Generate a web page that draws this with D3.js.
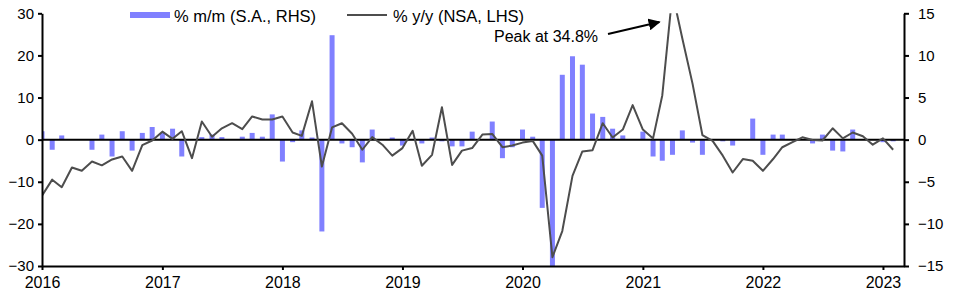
<!DOCTYPE html>
<html>
<head>
<meta charset="utf-8">
<script src="https://cdn.jsdelivr.net/npm/d3@7"></script>
<style>
  body { margin: 0; background: #fff; }
  text { font-family: "Liberation Sans", Arial, sans-serif; fill: #000; }
</style>
</head>
<body>
<svg id="chart" width="969" height="296"></svg>
<script>
// monthly data, Jan 2016 .. Feb 2023
const startMonth = "2016-01";
const yoy = [
  -13.3, -9.5, -11.3, -6.6, -7.4, -5.2, -6.1, -4.7, -4.0, -7.4, -1.3, -0.2,
  1.9, 0.2, 2.0, -4.4, 4.3, 0.7, 2.7, 3.9, 2.5, 5.5, 4.8, 4.8,
  5.5, 1.7, 0.9, 9.1, -6.4, 2.9, 3.9, 1.4, -2.4, 0.6, -1.2, -3.8,
  -2.0, 2.1, -6.2, -3.6, 7.7, -6.0, -2.6, -2.0, 1.2, 1.35, -1.8, -1.4,
  -0.7, -0.3, -3.8, -27.9, -21.7, -8.6, -2.8, -2.5, 3.9, 0.5, 2.4, 8.2,
  2.4, 0.3, 10.5, 34.8, 24.0, 13.3, 1.1, -0.3, -3.8, -7.8, -4.6, -5.0,
  -7.4, -4.6, -1.8, -0.6, 0.55, -0.1, -0.2, 2.7, 0.3, 1.7, 0.8, -1.2,
  0.3, -2.4
];
const mom = [
  1.0, -1.2, 0.5, 0, 0, -1.2, 0.6, -2.0, 1.0, -1.3, 0.8, 1.5,
  0.8, 1.3, -2.0, 0, 0.3, 0.6, 0.3, 0, 0.35, 0.8, 0.35, 3.0,
  -2.6, -0.3, 1.1, 0.25, -10.9, 12.4, -0.45, -0.9, -2.7, 1.2, 0, 0.25,
  -0.7, 0, -0.45, 0.25, -0.2, -0.8, -0.8, 0.95, 0, 2.15, -2.2, -0.9,
  1.2, 0.35, -8.1, -16.0, 7.7, 9.9, 8.9, 3.1, 2.7, 1.3, 0.5, 0,
  0.95, -2.0, -2.5, -1.8, 1.1, -0.35, -1.8, 0, -0.2, -0.7, 0, 2.5,
  -1.8, 0.6, 0.6, 0, 0, -0.45, 0.6, -1.3, -1.4, 1.2, 0, 0,
  -0.3, -0.2
];
const leftTicks = [-30, -20, -10, 0, 10, 20, 30];
const rightTicks = [-15, -10, -5, 0, 5, 10, 15];
const yearTicks = [2016, 2017, 2018, 2019, 2020, 2021, 2022, 2023];
const legendLabels = ["% m/m (S.A., RHS)", "% y/y (NSA, LHS)"];
const peakLabel = "Peak at 34.8%";
const peakIndex = 63; // Apr 2021

const barColor = "#8080ff";
const lineColor = "#4d4d4d";

const parseMonth = d3.timeParse("%Y-%m");
const months = d3.timeMonth.range(parseMonth(startMonth), d3.timeMonth.offset(parseMonth(startMonth), yoy.length));
const data = months.map((m, i) => ({ date: m, yoy: yoy[i], mom: mom[i] }));

const plotLeft = 42, plotRight = 904, plotTop = 13.3, plotBottom = 266;

const svg = d3.select("#chart");

const x = d3.scaleTime()
  .domain([new Date(2016, 0, 1), new Date(2023, 2, 6)])
  .range([plotLeft, plotRight]);
const yL = d3.scaleLinear().domain([-30, 30]).range([plotBottom, plotTop]);
const yR = d3.scaleLinear().domain([-15, 15]).range([plotBottom, plotTop]);

svg.append("clipPath").attr("id", "plot")
  .append("rect")
  .attr("x", plotLeft).attr("y", plotTop)
  .attr("width", plotRight - plotLeft).attr("height", plotBottom - plotTop);

// bars on the right axis
svg.append("g").attr("clip-path", "url(#plot)")
  .selectAll(".bar")
  .data(data.filter(d => d.mom !== 0))
  .enter()
  .append("rect")
  .attr("class", "bar")
  .attr("x", d => x(d.date) - 2.5)
  .attr("y", d => Math.min(yR(d.mom), yR(0)))
  .attr("width", 5)
  .attr("height", d => Math.abs(yR(d.mom) - yR(0)))
  .style("fill", barColor);

// zero line
svg.append("line")
  .attr("x1", plotLeft).attr("x2", plotRight)
  .attr("y1", yL(0)).attr("y2", yL(0))
  .style("stroke", "#000")
  .style("stroke-width", 2);

// y/y line on the left axis
const line = d3.line()
  .x(d => x(d.date))
  .y(d => yL(d.yoy));

svg.append("path")
  .datum(data)
  .attr("clip-path", "url(#plot)")
  .attr("d", line)
  .style("fill", "none")
  .style("stroke", lineColor)
  .style("stroke-width", 2)
  .style("stroke-linejoin", "round");

// axes
const styleAxis = (g, size) => {
  g.select(".domain").style("stroke", "#000").style("stroke-width", 2);
  g.selectAll(".tick line").style("stroke", "#000").style("stroke-width", 2);
  g.selectAll(".tick text").style("font-size", size + "px").style("fill", "#000")
    .style("font-family", "'Liberation Sans', Arial, sans-serif");
};

svg.append("g")
  .attr("transform", `translate(${plotLeft},0)`)
  .call(d3.axisLeft(yL).tickValues(leftTicks).tickSize(4).tickSizeOuter(0).tickPadding(4))
  .call(g => styleAxis(g, 15));

svg.append("g")
  .attr("transform", `translate(${plotRight},0)`)
  .call(d3.axisRight(yR).tickValues(rightTicks).tickSize(5).tickSizeOuter(0).tickPadding(9))
  .call(g => styleAxis(g, 15));

svg.append("g")
  .attr("transform", `translate(0,${plotBottom})`)
  .call(d3.axisBottom(x)
    .tickValues(yearTicks.map(y => new Date(y, 0, 1)))
    .tickFormat(d3.timeFormat("%Y"))
    .tickSize(4).tickSizeOuter(0).tickPadding(6.5))
  .call(g => styleAxis(g, 16));

// legend
const legend = svg.append("g");
legend.append("rect")
  .attr("x", 130).attr("y", 12)
  .attr("width", 40).attr("height", 6)
  .style("fill", barColor);
legend.append("text")
  .attr("x", 174).attr("y", 21.5)
  .style("font-size", "16.5px")
  .text(legendLabels[0]);
legend.append("line")
  .attr("x1", 347).attr("x2", 387)
  .attr("y1", 15).attr("y2", 15)
  .style("stroke", lineColor)
  .style("stroke-width", 2);
legend.append("text")
  .attr("x", 393).attr("y", 21.5)
  .style("font-size", "16.5px")
  .text(legendLabels[1]);

// peak annotation
svg.append("defs").append("marker")
  .attr("id", "arrow")
  .attr("viewBox", "0 0 10 10")
  .attr("refX", 9).attr("refY", 5)
  .attr("markerWidth", 6).attr("markerHeight", 6)
  .attr("markerUnits", "strokeWidth")
  .attr("orient", "auto")
  .append("path")
  .attr("d", "M0,0 L10,5 L0,10 z")
  .style("fill", "#000");

const peakX = x(data[peakIndex].date);
svg.append("line")
  .attr("x1", 608).attr("y1", 34)
  .attr("x2", peakX - 13).attr("y2", 22)
  .style("stroke", "#000")
  .style("stroke-width", 2)
  .attr("marker-end", "url(#arrow)");
svg.append("text")
  .attr("x", 494).attr("y", 42)
  .style("font-size", "16px")
  .text(peakLabel);
</script>
</body>
</html>
